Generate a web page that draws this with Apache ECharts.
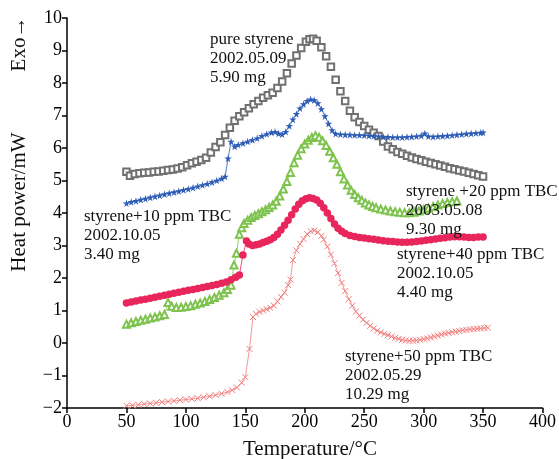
<!DOCTYPE html>
<html>
<head>
<meta charset="utf-8">
<script src="https://cdn.jsdelivr.net/npm/echarts@6/dist/echarts.min.js"></script>
<style>
  html, body { margin: 0; padding: 0; background: #fff; }
  #chart { width: 559px; height: 459px; }
</style>
</head>
<body>
<div id="chart"></div>
<script>
// x ticks / y ticks
const xTicks = [0, 50, 100, 150, 200, 250, 300, 350, 400];
const yTicks = [-2, -1, 0, 1, 2, 3, 4, 5, 6, 7, 8, 9, 10];

// pure styrene (2002.05.09, 5.90 mg)
const pureStyrene = [
  [50, 5.27], [53, 5.15], [57, 5.2], [61, 5.22], [65, 5.24], [69, 5.25], [73, 5.27], [77, 5.28],
  [81, 5.3], [85, 5.32], [89, 5.34], [93, 5.37], [97, 5.41], [101, 5.47], [105, 5.53], [109, 5.58],
  [113, 5.63], [117, 5.7], [121, 5.86], [125, 6.03], [129, 6.18], [133, 6.4], [137, 6.62], [141, 6.84],
  [145, 6.98], [149, 7.1], [153, 7.22], [157, 7.35], [161, 7.45], [165, 7.55], [169, 7.62], [173, 7.7],
  [177, 7.85], [181, 8.05], [185, 8.3], [189, 8.6], [193, 8.85], [197, 9.08], [201, 9.27], [204, 9.35],
  [207, 9.36], [210, 9.3], [214, 9.1], [218, 8.82], [222, 8.5], [226, 8.1], [230, 7.75], [234, 7.45],
  [238, 7.15], [242, 6.95], [246, 6.8], [250, 6.68], [254, 6.56], [258, 6.47], [262, 6.37], [266, 6.2],
  [270, 6.05], [274, 5.96], [278, 5.88], [282, 5.82], [286, 5.76], [290, 5.71], [294, 5.66], [298, 5.62],
  [302, 5.58], [306, 5.54], [310, 5.5], [314, 5.46], [318, 5.42], [322, 5.38], [326, 5.35], [330, 5.31],
  [334, 5.28], [338, 5.24], [342, 5.2], [346, 5.16], [350, 5.12]
];

// styrene + 10 ppm TBC (2002.10.05, 3.40 mg)
const tbc10 = [
  [50, 4.3], [54, 4.34], [58, 4.37], [62, 4.41], [66, 4.44], [70, 4.48], [74, 4.51], [78, 4.54],
  [82, 4.58], [86, 4.61], [90, 4.64], [94, 4.67], [98, 4.71], [102, 4.74], [106, 4.78], [110, 4.82],
  [114, 4.86], [118, 4.9], [122, 4.95], [126, 5.0], [130, 5.06], [133, 5.12], [135.5, 5.68], [138, 6.2],
  [141, 6.05], [144, 6.1], [148, 6.15], [152, 6.2], [156, 6.25], [160, 6.3], [164, 6.37], [168, 6.43],
  [172, 6.48], [175, 6.5], [178, 6.45], [181, 6.42], [184, 6.5], [187, 6.68], [190, 6.88], [193, 7.05],
  [196, 7.22], [199, 7.35], [202, 7.45], [205, 7.5], [208, 7.47], [211, 7.38], [214, 7.2], [217, 6.98],
  [220, 6.75], [223, 6.55], [226, 6.44], [230, 6.42], [234, 6.41], [238, 6.41], [242, 6.4], [246, 6.4],
  [250, 6.39], [254, 6.38], [258, 6.37], [262, 6.36], [266, 6.35], [270, 6.34], [274, 6.33], [278, 6.33],
  [282, 6.33], [286, 6.34], [290, 6.35], [294, 6.36], [298, 6.38], [301, 6.45], [304, 6.36], [308, 6.35],
  [312, 6.36], [316, 6.37], [320, 6.38], [324, 6.39], [328, 6.41], [332, 6.42], [336, 6.44], [340, 6.45],
  [344, 6.46], [348, 6.47], [350, 6.48]
];

// styrene + 20 ppm TBC (2003.05.08, 9.30 mg)
const tbc20 = [
  [50, 0.58], [54, 0.62], [58, 0.66], [62, 0.7], [66, 0.73], [70, 0.77], [74, 0.8], [78, 0.84],
  [82, 0.88], [85, 1.25], [88, 1.13], [92, 1.09], [96, 1.1], [100, 1.12], [104, 1.15], [108, 1.19],
  [112, 1.23], [116, 1.28], [120, 1.34], [124, 1.4], [128, 1.47], [132, 1.55], [135, 1.65], [138, 1.78],
  [140.5, 2.4], [142.5, 2.76], [145, 3.35], [147, 3.55], [149, 3.68], [152, 3.78], [155, 3.86], [158, 3.92],
  [161, 3.98], [164, 4.04], [167, 4.1], [170, 4.17], [173, 4.25], [176, 4.36], [179, 4.52], [182, 4.74],
  [185, 4.97], [188, 5.25], [191, 5.55], [194, 5.78], [197, 5.98], [200, 6.12], [203, 6.24], [206, 6.32],
  [209, 6.38], [212, 6.33], [215, 6.22], [218, 6.08], [221, 5.9], [224, 5.7], [227, 5.5], [230, 5.27],
  [233, 5.05], [236, 4.86], [239, 4.7], [242, 4.57], [245, 4.47], [248, 4.39], [251, 4.31], [254, 4.25],
  [257, 4.2], [260, 4.16], [264, 4.12], [268, 4.09], [272, 4.06], [276, 4.04], [280, 4.02], [284, 4.01],
  [288, 4.01], [292, 4.02], [296, 4.06], [300, 4.1], [304, 4.15], [308, 4.2], [312, 4.25], [316, 4.29],
  [320, 4.32], [324, 4.35], [328, 4.37]
];

// styrene + 40 ppm TBC (2002.10.05, 4.40 mg)
const tbc40 = [
  [50, 1.23], [54, 1.26], [58, 1.29], [62, 1.32], [66, 1.35], [70, 1.38], [74, 1.41], [78, 1.44],
  [82, 1.47], [86, 1.5], [90, 1.53], [94, 1.56], [98, 1.59], [102, 1.62], [106, 1.65], [110, 1.68],
  [114, 1.71], [118, 1.74], [122, 1.77], [126, 1.8], [130, 1.84], [134, 1.88], [138, 1.95], [142, 2.02],
  [145, 2.09], [148, 2.71], [151, 3.14], [153, 3.05], [156, 3.0], [159, 3.02], [162, 3.05], [165, 3.09],
  [168, 3.13], [171, 3.18], [174, 3.25], [177, 3.35], [180, 3.48], [183, 3.62], [186, 3.78], [189, 3.95],
  [192, 4.12], [195, 4.27], [198, 4.38], [201, 4.44], [204, 4.47], [207, 4.45], [210, 4.4], [213, 4.3],
  [216, 4.16], [219, 4.0], [222, 3.83], [225, 3.66], [228, 3.53], [231, 3.44], [234, 3.37], [238, 3.31],
  [242, 3.28], [246, 3.25], [250, 3.23], [254, 3.21], [258, 3.19], [262, 3.17], [266, 3.15], [270, 3.13],
  [274, 3.12], [278, 3.11], [282, 3.1], [286, 3.1], [290, 3.11], [294, 3.12], [298, 3.14], [302, 3.16],
  [306, 3.18], [310, 3.2], [314, 3.22], [318, 3.24], [322, 3.26], [326, 3.27], [330, 3.27], [334, 3.26],
  [338, 3.25], [342, 3.25], [346, 3.26], [350, 3.26]
];

// styrene + 50 ppm TBC (2002.05.29, 10.29 mg)
const tbc50 = [
  [50, -1.93], [55, -1.92], [60, -1.9], [65, -1.88], [70, -1.86], [75, -1.84], [80, -1.82], [85, -1.8],
  [90, -1.78], [95, -1.76], [100, -1.74], [105, -1.72], [110, -1.7], [115, -1.67], [120, -1.64], [125, -1.6],
  [130, -1.56], [135, -1.51], [139, -1.45], [143, -1.37], [147, -1.22], [150, -1.05], [153.5, -0.18], [156.5, 0.8],
  [159, 0.9], [162, 0.96], [165, 1.0], [168, 1.04], [171, 1.08], [174, 1.15], [177, 1.28], [180, 1.42],
  [183, 1.55], [186, 1.78], [188, 1.95], [190, 2.55], [193, 2.85], [196, 3.05], [199, 3.2], [202, 3.35],
  [205, 3.44], [208, 3.46], [211, 3.41], [214, 3.3], [216, 3.18], [219, 2.97], [222, 2.72], [225, 2.45],
  [228, 2.15], [231, 1.85], [234, 1.6], [237, 1.35], [240, 1.15], [243, 0.97], [246, 0.84], [249, 0.72],
  [252, 0.62], [255, 0.53], [258, 0.45], [261, 0.38], [264, 0.33], [267, 0.28], [270, 0.24], [273, 0.2],
  [276, 0.16], [279, 0.13], [282, 0.1], [285, 0.08], [288, 0.07], [291, 0.07], [294, 0.08], [297, 0.1],
  [300, 0.12], [303, 0.14], [306, 0.17], [309, 0.2], [312, 0.23], [315, 0.26], [318, 0.29], [321, 0.31],
  [324, 0.33], [327, 0.35], [330, 0.37], [333, 0.39], [336, 0.4], [339, 0.42], [342, 0.43], [345, 0.44],
  [348, 0.45], [351, 0.46], [354, 0.47]
];

// annotations
const labelPure = ['pure styrene', '2002.05.09', '5.90 mg'];
const label10 = ['styrene+10 ppm TBC', '2002.10.05', '3.40 mg'];
const label20 = ['styrene +20 ppm TBC', '2003.05.08', '9.30 mg'];
const label40 = ['styrene+40 ppm TBC', '2002.10.05', '4.40 mg'];
const label50 = ['styrene+50 ppm TBC', '2002.05.29', '10.29 mg'];

const serif = '"Liberation Serif", "DejaVu Serif", serif';
const starPath = 'path://M50,0L61,35L98,35L68,57L79,91L50,70L21,91L32,57L2,35L39,35Z';
const crossPath = 'path://M0,0L10,10M10,0L0,10';

const myChart = echarts.init(document.getElementById('chart'));

//注释文字
function note(lines, x, y) {
  return {
    type: 'text',
    x: x,
    y: y,
    style: {
      text: lines.join('\n'),
      fontFamily: serif,
      fontSize: 17,
      lineHeight: 19,
      fill: '#111'
    },
    z: 10
  };
}

const option = {
  animation: false,
  grid: { left: 67, right: 15, top: 18, bottom: 51 },
  xAxis: {
    type: 'value',
    min: xTicks[0],
    max: xTicks[xTicks.length - 1],
    interval: 50,
    axisLine: { onZero: false, lineStyle: { color: '#000', width: 1.5 } },
    axisTick: { length: 5, lineStyle: { color: '#000', width: 1.5 } },
    axisLabel: { color: '#000', fontFamily: serif, fontSize: 18, margin: 5 },
    splitLine: { show: false }
  },
  yAxis: {
    type: 'value',
    min: yTicks[0],
    max: yTicks[yTicks.length - 1],
    interval: 1,
    axisLine: { show: true, onZero: false, lineStyle: { color: '#000', width: 1.5 } },
    axisTick: { show: true, length: 5, lineStyle: { color: '#000', width: 1.5 } },
    axisLabel: {
      color: '#000', fontFamily: serif, fontSize: 18, margin: 5,
      formatter: v => (v < 0 ? '\u2212' + Math.abs(v) : String(v))
    },
    splitLine: { show: false }
  },
  series: [
    {
      name: 'pure',
      type: 'line',
      data: pureStyrene,
      symbol: 'emptyRect',
      symbolSize: 6.5,
      showAllSymbol: true,
      itemStyle: { color: '#707070', borderWidth: 1 },
      lineStyle: { width: 0 }
    },
    {
      name: '+10',
      type: 'line',
      data: tbc10,
      symbol: starPath,
      symbolSize: 7.5,
      showAllSymbol: true,
      itemStyle: { color: '#2d5cb5' },
      lineStyle: { color: '#2d5cb5', width: 0.8 }
    },
    {
      name: '+20',
      type: 'line',
      data: tbc20,
      symbol: 'emptyTriangle',
      symbolSize: 7,
      showAllSymbol: true,
      itemStyle: { color: '#7dc34e', borderWidth: 1 },
      lineStyle: { color: '#7dc34e', width: 0.8 }
    },
    {
      name: '+40',
      type: 'line',
      data: tbc40,
      symbol: 'circle',
      symbolSize: 7.5,
      showAllSymbol: true,
      itemStyle: { color: '#e8265c' },
      lineStyle: { color: '#e8265c', width: 0.8 }
    },
    {
      name: '+50',
      type: 'line',
      data: tbc50,
      symbol: crossPath,
      symbolSize: 6,
      showAllSymbol: true,
      itemStyle: { color: 'rgba(0,0,0,0)', borderColor: '#f27c7c', borderWidth: 1 },
      lineStyle: { color: '#f27c7c', width: 0.8 }
    }
  ],
  graphic: [
    note(labelPure, 210, 30),
    note(label10, 84, 207),
    note(label20, 406, 182),
    note(label40, 397, 245),
    note(label50, 345, 347),
    {
      type: 'text',
      x: 19, y: 44, rotation: Math.PI / 2,
      style: { text: 'Exo\u2192', fontFamily: serif, fontSize: 21, fill: '#111', align: 'center', verticalAlign: 'middle' }
    },
    {
      type: 'text',
      x: 19, y: 202, rotation: Math.PI / 2,
      style: { text: 'Heat power/mW', fontFamily: serif, fontSize: 21, fill: '#111', align: 'center', verticalAlign: 'middle' }
    },
    {
      type: 'text',
      x: 310, y: 449,
      style: { text: 'Temperature/\u00B0C', fontFamily: serif, fontSize: 21, fill: '#111', align: 'center', verticalAlign: 'middle' }
    }
  ]
};

myChart.setOption(option);
</script>
</body>
</html>
